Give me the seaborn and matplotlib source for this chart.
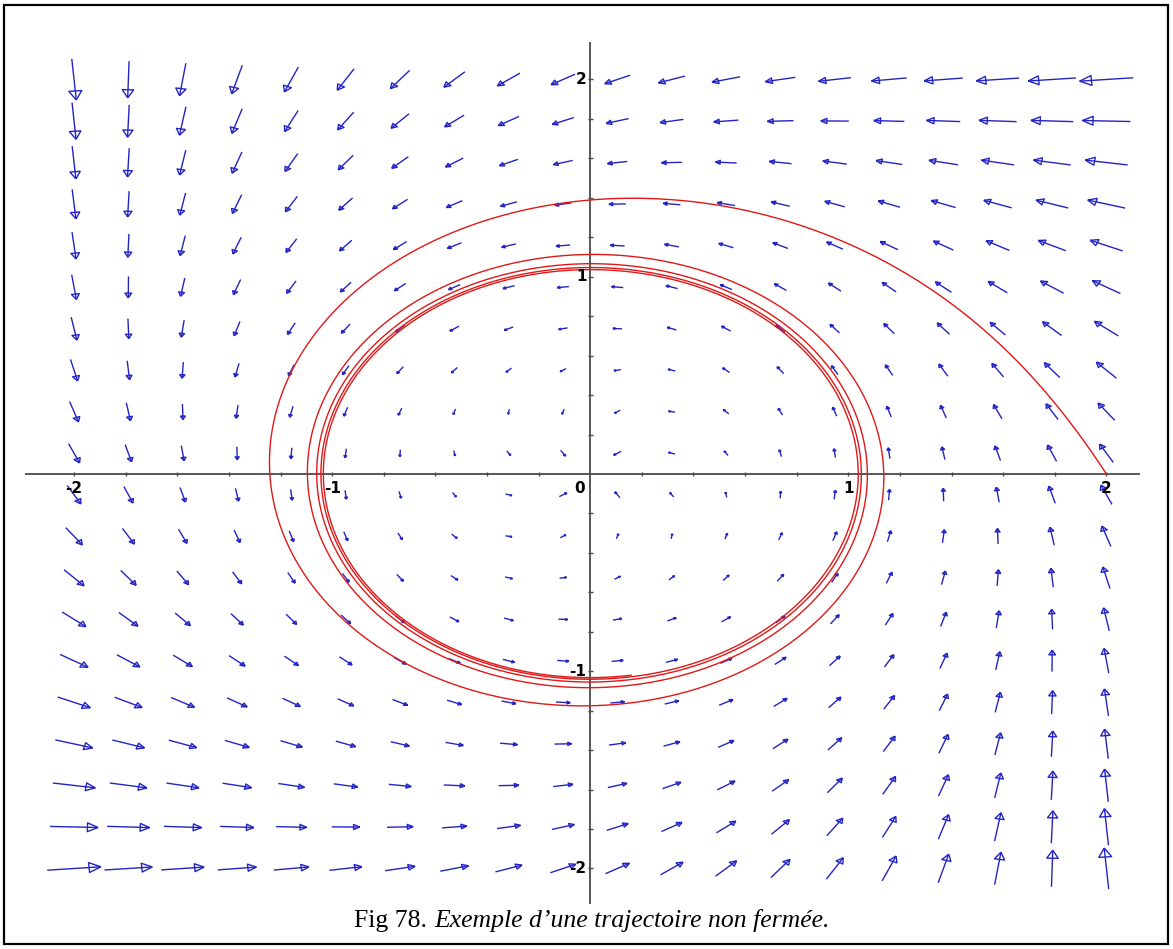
import numpy as np
import pandas as pd
import matplotlib
matplotlib.use("Agg")
import matplotlib.pyplot as plt
import seaborn as sns
from matplotlib.collections import LineCollection
from matplotlib.patches import Rectangle

# ---------------- data ----------------
# direction-field grid (20 x 20 points on [-2, 2] x [-2, 2])
GRID_X = np.linspace(-2.0, 2.0, 20)
GRID_Y = np.linspace(-2.0, 2.0, 20)
# trajectory: initial point and time span
START_X, START_Y = 2.0, 0.0
T_END = 30.0
# axis labels and small tick marks
LABEL_VALUES = [-2, -1, 0, 1, 2]
LABEL_TEXTS = ["-2", "-1", "0", "1", "2"]
TICK_VALUES = [round(-2.0 + 0.2 * i, 1) for i in range(21)]
CAPTION_NUM = "Fig 78."
CAPTION_TXT = "Exemple d\u2019une trajectoire non ferm\u00e9e."


# system in polar form: r' = -(r-1)^2, theta' = 1
def field(x, y):
    r = np.hypot(x, y)
    rad = -(r - 1.0) ** 2
    u = -y + rad * x / r
    v = x + rad * y / r
    return u, v


def integrate(x0, y0, t_end, n=6000):
    dt = t_end / n
    xs = [x0]
    ys = [y0]
    x, y = x0, y0
    for _ in range(n):
        k1 = field(x, y)
        k2 = field(x + 0.5 * dt * k1[0], y + 0.5 * dt * k1[1])
        k3 = field(x + 0.5 * dt * k2[0], y + 0.5 * dt * k2[1])
        k4 = field(x + dt * k3[0], y + dt * k3[1])
        x = x + dt / 6 * (k1[0] + 2 * k2[0] + 2 * k3[0] + k4[0])
        y = y + dt / 6 * (k1[1] + 2 * k2[1] + 2 * k3[1] + k4[1])
        xs.append(x)
        ys.append(y)
    return np.array(xs), np.array(ys)


sns.set_style("white")
plt.rcParams["font.family"] = ["DejaVu Sans"]

W, H = 1173, 949
fig = plt.figure(figsize=(W / 100, H / 100), dpi=100)
fig.patch.set_facecolor("white")

XL, XR = -2.19, 2.13
YB, YT = -2.18, 2.19
ax = fig.add_axes([25 / W, (H - 904) / H, 1115 / W, 862 / H])
ax.set_xlim(XL, XR)
ax.set_ylim(YB, YT)
ax.axis("off")

# axis lines
axis_col = "#4a4a4a"
ax.plot([XL, XR], [0, 0], color=axis_col, lw=1.3, zorder=1)
ax.plot([0, 0], [YB, YT], color=axis_col, lw=1.3, zorder=1)
tick_segs = []
for t in TICK_VALUES:
    if abs(t) > 1e-9:
        tick_segs.append([(t, -0.012), (t, 0.012)])
        tick_segs.append([(-0.009, t), (0.009, t)])
ax.add_collection(LineCollection(tick_segs, colors=axis_col, linewidths=1.0, zorder=1))

# axis labels
for v, s in zip(LABEL_VALUES, LABEL_TEXTS):
    xoff = -0.04 if v == 0 else 0.0
    ax.text(v + xoff, -0.035, s, ha="center", va="top", fontsize=11,
            fontweight="bold", color="black", zorder=4)
    if v != 0:
        ax.text(-0.015, v, s, ha="right", va="center", fontsize=11,
                fontweight="bold", color="black", zorder=4)

# direction field arrows
GX, GY = np.meshgrid(GRID_X, GRID_Y)
U, V = field(GX, GY)
mag = np.hypot(U, V)
spacing = GRID_X[1] - GRID_X[0]
scale = 0.99 * spacing / mag.max()
segs = []
for px, py, u, v in zip(GX.ravel(), GY.ravel(), U.ravel(), V.ravel()):
    dx, dy = u * scale, v * scale
    tail = (px - dx / 2, py - dy / 2)
    tip = (px + dx / 2, py + dy / 2)
    segs.append([tail, tip])
    bx, by = tip[0] - 0.22 * dx, tip[1] - 0.22 * dy
    qx, qy = -dy * 0.12, dx * 0.12
    segs.append([tip, (bx + qx, by + qy), (bx - qx, by - qy), tip])
ax.add_collection(LineCollection(segs, colors="#2424c4", linewidths=1.0, zorder=2))

# trajectory
tx, ty = integrate(START_X, START_Y, T_END)
traj = pd.DataFrame({"x": tx, "y": ty})
sns.lineplot(data=traj, x="x", y="y", sort=False, estimator=None,
             color="#e01818", lw=1.0, ax=ax, zorder=3)
ax.set_xlim(XL, XR)
ax.set_ylim(YB, YT)
ax.axis("off")

# figure border
fig.add_artist(Rectangle((4 / W, 5 / H), (1168 - 4) / W, (944 - 5) / H,
                         transform=fig.transFigure, fill=False,
                         edgecolor="black", lw=1.6))

# caption
yb = (H - 927) / H
fs = 18.5
t1 = fig.text(0, yb, CAPTION_NUM, family="Liberation Serif", size=fs,
              va="baseline", color="black")
t2 = fig.text(0, yb, CAPTION_TXT, family="Liberation Serif", style="italic",
              size=fs, va="baseline", color="black")
fig.canvas.draw()
rend = fig.canvas.get_renderer()
w1 = t1.get_window_extent(rend).width
w2 = t2.get_window_extent(rend).width
gap = 7
total = w1 + gap + w2
x0 = 592 - total / 2
t1.set_x(x0 / W)
t2.set_x((x0 + w1 + gap) / W)

fig.savefig("out.png", dpi=100)
